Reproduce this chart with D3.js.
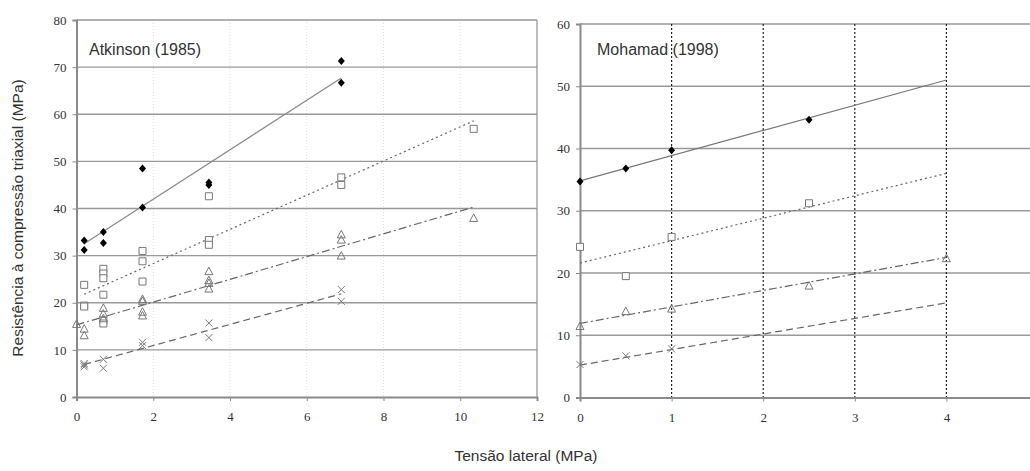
<!DOCTYPE html>
<html>
<head>
    <meta charset="utf-8" />
    <title>Resistência triaxial</title>
    <style>
        body { margin: 0; background: #fff; }
        .title { font-family: "Liberation Sans", Arial, sans-serif; fill: #333; }
    </style>
</head>
<body>
<script src="https://d3js.org/d3.v7.min.js"></script>
<script>
    // Atkinson (1985) - points [tensão lateral, resistência]
    var atkDiamonds = [[0.2,33.2],[0.2,31.2],[0.7,35.0],[0.7,32.7],[1.72,40.2],[1.72,48.5],[3.45,45.5],[3.45,45.0],[6.9,71.3],[6.9,66.7]];
    var atkSquares = [[0.2,23.8],[0.2,19.4],[0.2,19.2],[0.7,27.2],[0.7,26.2],[0.7,25.2],[0.7,21.7],[0.7,16.2],[0.7,15.6],[1.72,31.0],[1.72,28.8],[1.72,24.5],[3.45,33.3],[3.45,32.3],[3.45,42.6],[6.9,46.6],[6.9,45.0],[10.35,56.9]];
    var atkTriangles = [[0,15.4],[0.2,14.4],[0.2,13.0],[0.7,18.8],[0.7,17.6],[0.7,16.6],[1.72,20.7],[1.72,20.3],[1.72,18.0],[1.72,17.2],[3.45,26.6],[3.45,24.7],[3.45,24.1],[3.45,22.9],[6.9,34.4],[6.9,33.3],[6.9,29.9],[10.35,37.9]];
    var atkCrosses = [[0.2,7.1],[0.2,6.8],[0.2,6.4],[0.7,8.0],[0.7,6.1],[1.72,11.6],[1.72,10.9],[3.45,15.7],[3.45,12.6],[6.9,22.8],[6.9,20.3]];
    var atkFitSolid = [[0.2,32.5],[6.9,67.7]];
    var atkFitDotted = [[0.2,21.8],[10.35,58.6]];
    var atkFitDashDot = [[0,15.3],[10.35,40.3]];
    var atkFitDashed = [[0.2,6.9],[6.9,21.9]];

    // Mohamad (1998)
    var mohDiamonds = [[0,34.7],[0.5,36.8],[1,39.7],[2.5,44.6]];
    var mohSquares = [[0,24.2],[0.5,19.5],[1,25.8],[2.5,31.2]];
    var mohTriangles = [[0,11.4],[0.5,13.8],[1,14.2],[2.5,17.9],[4,22.3]];
    var mohCrosses = [[0,5.3],[0.5,6.7],[1,7.8]];
    var mohFitSolid = [[0,34.8],[4,51.0]];
    var mohFitDotted = [[0,21.6],[4,36.0]];
    var mohFitDashDot = [[0,11.9],[4,22.5]];
    var mohFitDashed = [[0,5.2],[4,15.2]];

    var atkXTicks = [0,2,4,6,8,10,12];
    var atkYTicks = [0,10,20,30,40,50,60,70,80];
    var mohXTicks = [0,1,2,3,4];
    var mohYTicks = [0,10,20,30,40,50,60];

    var width = 1030, height = 471;
    var svg = d3.select("body").append("svg")
        .attr("width", width)
        .attr("height", height);

    var gridColor = "#999";
    var axisColor = "#8a8a8a";
    var markColor = "#777";

    // marker shapes
    function drawMarkers(g, data, x, y, kind) {
        var sel = g.append("g").selectAll("path").data(data).enter().append("path")
            .attr("transform", d => "translate(" + x(d[0]) + "," + y(d[1]) + ")");
        if (kind == "diamond") {
            sel.attr("d", "M0,-4L3.5,0L0,4L-3.5,0Z").attr("fill", "#000");
        } else if (kind == "square") {
            sel.attr("d", "M-3.5,-3.5H3.5V3.5H-3.5Z").attr("fill", "#fff")
               .attr("stroke", markColor).attr("stroke-width", 1);
        } else if (kind == "triangle") {
            sel.attr("d", "M0,-4.5L4,3L-4,3Z").attr("fill", "none")
               .attr("stroke", markColor).attr("stroke-width", 1);
        } else {
            sel.attr("d", "M-3.5,-3.5L3.5,3.5M3.5,-3.5L-3.5,3.5").attr("fill", "none")
               .attr("stroke", markColor).attr("stroke-width", 1);
        }
    }

    function drawFit(g, data, x, y, dash, color) {
        g.append("path")
            .datum(data)
            .attr("d", d3.line().x(d => x(d[0])).y(d => y(d[1])))
            .attr("fill", "none")
            .attr("stroke", color)
            .attr("stroke-width", 1.2)
            .attr("stroke-dasharray", dash);
    }

    function styleAxis(a) {
        a.attr("font-family", "'Liberation Serif', 'DejaVu Serif', serif").attr("font-size", 13);
        a.select(".domain").attr("stroke", axisColor).attr("stroke-width", 2);
        a.selectAll(".tick line").attr("stroke", axisColor);
        a.selectAll(".tick text").attr("fill", "#333");
    }

    // ---------- left panel ----------
    var xL = d3.scaleLinear().domain([0, 12]).range([76.5, 537]);
    var yL = d3.scaleLinear().domain([0, 80]).range([397, 20]);
    var gL = svg.append("g");

    // faint vertical grid
    gL.append("g").selectAll("line").data(atkXTicks.slice(1, -1)).enter().append("line")
        .attr("x1", d => xL(d)).attr("x2", d => xL(d))
        .attr("y1", yL(80)).attr("y2", yL(0))
        .attr("stroke", "#ddd").attr("stroke-width", 1).attr("stroke-dasharray", "1,2");

    gL.append("g").selectAll("line").data(atkYTicks.slice(1)).enter().append("line")
        .attr("x1", xL(0)).attr("x2", xL(12))
        .attr("y1", d => yL(d)).attr("y2", d => yL(d))
        .attr("stroke", gridColor).attr("stroke-width", 1.3);

    gL.append("line").attr("x1", xL(12)).attr("x2", xL(12)).attr("y1", yL(80)).attr("y2", yL(0))
        .attr("stroke", gridColor).attr("stroke-width", 1.3);

    var axL = gL.append("g").attr("transform", "translate(0," + yL(0) + ")")
        .call(d3.axisBottom(xL).tickValues(atkXTicks).tickFormat(d3.format("d")).tickSize(4).tickPadding(11));
    var ayL = gL.append("g").attr("transform", "translate(" + xL(0) + ",0)")
        .call(d3.axisLeft(yL).tickValues(atkYTicks).tickFormat(d3.format("d")).tickSize(4).tickPadding(6));
    styleAxis(axL);
    styleAxis(ayL);

    drawFit(gL, atkFitSolid, xL, yL, null, "#888");
    drawFit(gL, atkFitDotted, xL, yL, "2,3", "#666");
    drawFit(gL, atkFitDashDot, xL, yL, "8,3,2,3", "#666");
    drawFit(gL, atkFitDashed, xL, yL, "7,4", "#666");

    drawMarkers(gL, atkSquares, xL, yL, "square");
    drawMarkers(gL, atkTriangles, xL, yL, "triangle");
    drawMarkers(gL, atkCrosses, xL, yL, "cross");
    drawMarkers(gL, atkDiamonds, xL, yL, "diamond");

    gL.append("text").attr("class", "title").attr("x", 89).attr("y", 55)
        .style("font-size", "16px").text("Atkinson (1985)");

    // ---------- right panel ----------
    var xR = d3.scaleLinear().domain([0, 5]).range([580, 1038]);
    var yR = d3.scaleLinear().domain([0, 60]).range([397.5, 24]);
    var gR = svg.append("g");

    gR.append("g").selectAll("line").data(mohYTicks.slice(1)).enter().append("line")
        .attr("x1", xR(0)).attr("x2", width)
        .attr("y1", d => yR(d)).attr("y2", d => yR(d))
        .attr("stroke", gridColor).attr("stroke-width", 1.3);

    gR.append("g").selectAll("line").data(mohXTicks.slice(1)).enter().append("line")
        .attr("x1", d => xR(d)).attr("x2", d => xR(d))
        .attr("y1", yR(60)).attr("y2", yR(0))
        .attr("stroke", "#222").attr("stroke-width", 1.2).attr("stroke-dasharray", "2,2");

    var axR = gR.append("g").attr("transform", "translate(0," + yR(0) + ")")
        .call(d3.axisBottom(xR).tickValues(mohXTicks).tickFormat(d3.format("d")).tickSize(4).tickPadding(11));
    var ayR = gR.append("g").attr("transform", "translate(" + xR(0) + ",0)")
        .call(d3.axisLeft(yR).tickValues(mohYTicks).tickFormat(d3.format("d")).tickSize(4).tickPadding(6));
    styleAxis(axR);
    styleAxis(ayR);

    drawFit(gR, mohFitSolid, xR, yR, null, "#777");
    drawFit(gR, mohFitDotted, xR, yR, "2,3", "#666");
    drawFit(gR, mohFitDashDot, xR, yR, "8,3,2,3", "#666");
    drawFit(gR, mohFitDashed, xR, yR, "7,4", "#666");

    drawMarkers(gR, mohSquares, xR, yR, "square");
    drawMarkers(gR, mohTriangles, xR, yR, "triangle");
    drawMarkers(gR, mohCrosses, xR, yR, "cross");
    drawMarkers(gR, mohDiamonds, xR, yR, "diamond");

    gR.append("text").attr("class", "title").attr("x", 597).attr("y", 55)
        .style("font-size", "16px").text("Mohamad (1998)");

    // ---------- axis titles ----------
    svg.append("text").attr("class", "title")
        .attr("transform", "translate(23,218) rotate(-90)")
        .attr("text-anchor", "middle")
        .style("font-size", "15.5px")
        .text("Resistência à compressão triaxial (MPa)");

    svg.append("text").attr("class", "title")
        .attr("x", 526).attr("y", 461)
        .attr("text-anchor", "middle")
        .style("font-size", "15.5px")
        .text("Tensão lateral (MPa)");
</script>
</body>
</html>
